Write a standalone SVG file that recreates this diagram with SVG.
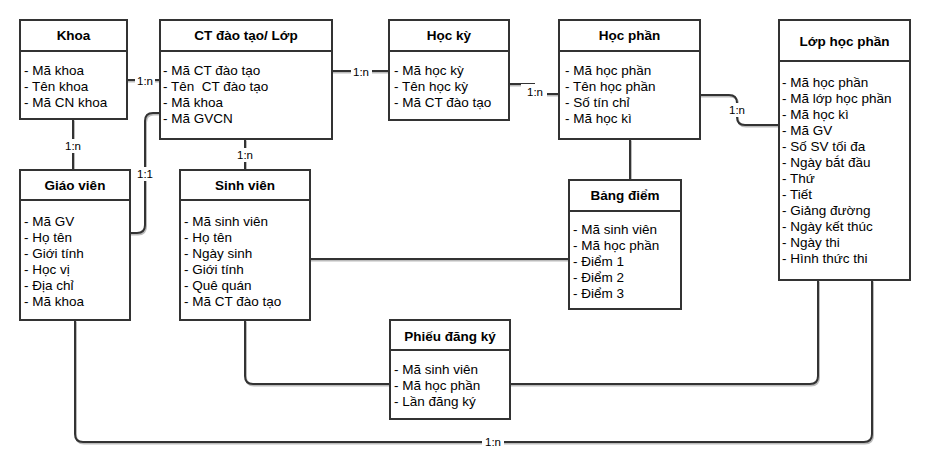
<svg xmlns="http://www.w3.org/2000/svg" xmlns:xlink="http://www.w3.org/1999/xlink" width="930" height="469" viewBox="0 0 930 469">
<style>
.box{fill:#fff;stroke:#333;stroke-width:2}
.div{stroke:#333;stroke-width:2}
.t{font-family:"Liberation Sans",Arial,sans-serif;font-size:13.5px;fill:#000}
.h{font-family:"Liberation Sans",Arial,sans-serif;font-size:13.5px;font-weight:bold;fill:#000;text-anchor:middle}
.c{fill:none;stroke-width:2}
.lb{font-family:"Liberation Sans",Arial,sans-serif;font-size:11.5px;fill:#000;text-anchor:middle}
.bg{fill:#fff}
</style>
<defs>
<g id="paths">
<path class="c" d="M127,80 H160"/>
<path class="c" d="M73,119 V170"/>
<path class="c" d="M245,139 V170"/>
<path class="c" d="M160,113 H153 Q145,113 145,121 V225 Q145,233 137,233 H130"/>
<path class="c" d="M332,71 H389"/>
<path class="c" d="M509,84 H534 V94 H559"/>
<path class="c" d="M700,95 H729 Q737,95 737,103 V117 Q737,125 745,125 H779"/>
<path class="c" d="M630,139 V180"/>
<path class="c" d="M310,259 H569"/>
<path class="c" d="M245,320 V376 Q245,384 253,384 H810 Q818,384 818,376 V280"/>
<path class="c" d="M75,320 V434 Q75,442 83,442 H864 Q872,442 872,434 V280"/>
</g>
</defs>
<rect width="930" height="469" fill="#fff"/>
<g id="connectors">
<use xlink:href="#paths" href="#paths" stroke="#bbb" transform="translate(1,1.5)"/>
<use xlink:href="#paths" href="#paths" stroke="#333"/>
<rect class="bg" x="135" y="73" width="20" height="14"/><text class="lb" x="145" y="85">1:n</text>
<rect class="bg" x="63" y="139" width="20" height="14"/><text class="lb" x="73" y="150">1:n</text>
<rect class="bg" x="235" y="148" width="20" height="14"/><text class="lb" x="245" y="159">1:n</text>
<rect class="bg" x="136" y="167" width="18" height="14"/><text class="lb" x="145" y="178">1:1</text>
<rect class="bg" x="351" y="64" width="21" height="14"/><text class="lb" x="361" y="76">1:n</text>
<rect class="bg" x="521" y="84" width="26" height="14"/><text class="lb" x="535" y="96">1:n</text>
<rect class="bg" x="727" y="103" width="20" height="14"/><text class="lb" x="737" y="114">1:n</text>
<rect class="bg" x="482" y="435" width="22" height="14"/><text class="lb" x="493" y="446">1:n</text>
</g>
<g id="khoa">
<rect class="box" x="20" y="20" width="107" height="99"/><line class="div" x1="20" y1="51" x2="127" y2="51"/>
<text class="h" x="73.5" y="40">Khoa</text>
<text class="t" x="24" y="75">- Mã khoa</text>
<text class="t" x="24" y="91">- Tên khoa</text>
<text class="t" x="24" y="107">- Mã CN khoa</text>
</g>
<g id="ct-dao-tao">
<rect class="box" x="160" y="20" width="172" height="119"/><line class="div" x1="160" y1="51" x2="332" y2="51"/>
<text class="h" x="246" y="40">CT đào tạo/ Lớp</text>
<text class="t" x="163" y="75">- Mã CT đào tạo</text>
<text class="t" x="163" y="91" xml:space="preserve">- Tên  CT đào tạo</text>
<text class="t" x="163" y="107">- Mã khoa</text>
<text class="t" x="163" y="123">- Mã GVCN</text>
</g>
<g id="hoc-ky">
<rect class="box" x="389" y="20" width="120" height="100"/><line class="div" x1="389" y1="51" x2="509" y2="51"/>
<text class="h" x="449" y="40">Học kỳ</text>
<text class="t" x="394" y="75">- Mã học kỳ</text>
<text class="t" x="394" y="91">- Tên học kỳ</text>
<text class="t" x="394" y="107">- Mã CT đào tạo</text>
</g>
<g id="hoc-phan">
<rect class="box" x="559" y="20" width="141" height="119"/><line class="div" x1="559" y1="51" x2="700" y2="51"/>
<text class="h" x="629.5" y="40">Học phần</text>
<text class="t" x="565" y="75">- Mã học phần</text>
<text class="t" x="565" y="91">- Tên học phần</text>
<text class="t" x="565" y="107">- Số tín chỉ</text>
<text class="t" x="565" y="123">- Mã học kì</text>
</g>
<g id="lop-hoc-phan">
<rect class="box" x="779" y="20" width="131" height="260"/><line class="div" x1="779" y1="61" x2="910" y2="61"/>
<text class="h" x="844.5" y="46">Lớp học phần</text>
<text class="t" x="782" y="87">- Mã học phần</text>
<text class="t" x="782" y="103">- Mã lớp học phần</text>
<text class="t" x="782" y="119">- Mã học kì</text>
<text class="t" x="782" y="135">- Mã GV</text>
<text class="t" x="782" y="151">- Số SV tối đa</text>
<text class="t" x="782" y="167">- Ngày bắt đầu</text>
<text class="t" x="782" y="183">- Thứ</text>
<text class="t" x="782" y="199">- Tiết</text>
<text class="t" x="782" y="215">- Giảng đường</text>
<text class="t" x="782" y="231">- Ngày kết thúc</text>
<text class="t" x="782" y="247">- Ngày thi</text>
<text class="t" x="782" y="263">- Hình thức thi</text>
</g>
<g id="giao-vien">
<rect class="box" x="20" y="170" width="110" height="150"/><line class="div" x1="20" y1="200" x2="130" y2="200"/>
<text class="h" x="75" y="190">Giáo viên</text>
<text class="t" x="24" y="226">- Mã GV</text>
<text class="t" x="24" y="242">- Họ tên</text>
<text class="t" x="24" y="258">- Giới tính</text>
<text class="t" x="24" y="274">- Học vị</text>
<text class="t" x="24" y="290">- Địa chỉ</text>
<text class="t" x="24" y="306">- Mã khoa</text>
</g>
<g id="sinh-vien">
<rect class="box" x="180" y="170" width="130" height="150"/><line class="div" x1="180" y1="200" x2="310" y2="200"/>
<text class="h" x="245" y="190">Sinh viên</text>
<text class="t" x="184" y="226">- Mã sinh viên</text>
<text class="t" x="184" y="242">- Họ tên</text>
<text class="t" x="184" y="258">- Ngày sinh</text>
<text class="t" x="184" y="274">- Giới tính</text>
<text class="t" x="184" y="290">- Quê quán</text>
<text class="t" x="184" y="306">- Mã CT đào tạo</text>
</g>
<g id="bang-diem">
<rect class="box" x="569" y="180" width="112" height="129"/><line class="div" x1="569" y1="211" x2="681" y2="211"/>
<text class="h" x="625" y="200">Bảng điểm</text>
<text class="t" x="573" y="234">- Mã sinh viên</text>
<text class="t" x="573" y="250">- Mã học phần</text>
<text class="t" x="573" y="266">- Điểm 1</text>
<text class="t" x="573" y="282">- Điểm 2</text>
<text class="t" x="573" y="298">- Điểm 3</text>
</g>
<g id="phieu-dang-ky">
<rect class="box" x="390" y="320" width="120" height="99"/><line class="div" x1="390" y1="350" x2="510" y2="350"/>
<text class="h" x="450" y="341">Phiếu đăng ký</text>
<text class="t" x="394" y="374">- Mã sinh viên</text>
<text class="t" x="394" y="390">- Mã học phần</text>
<text class="t" x="394" y="406">- Lần đăng ký</text>
</g>
</svg>
